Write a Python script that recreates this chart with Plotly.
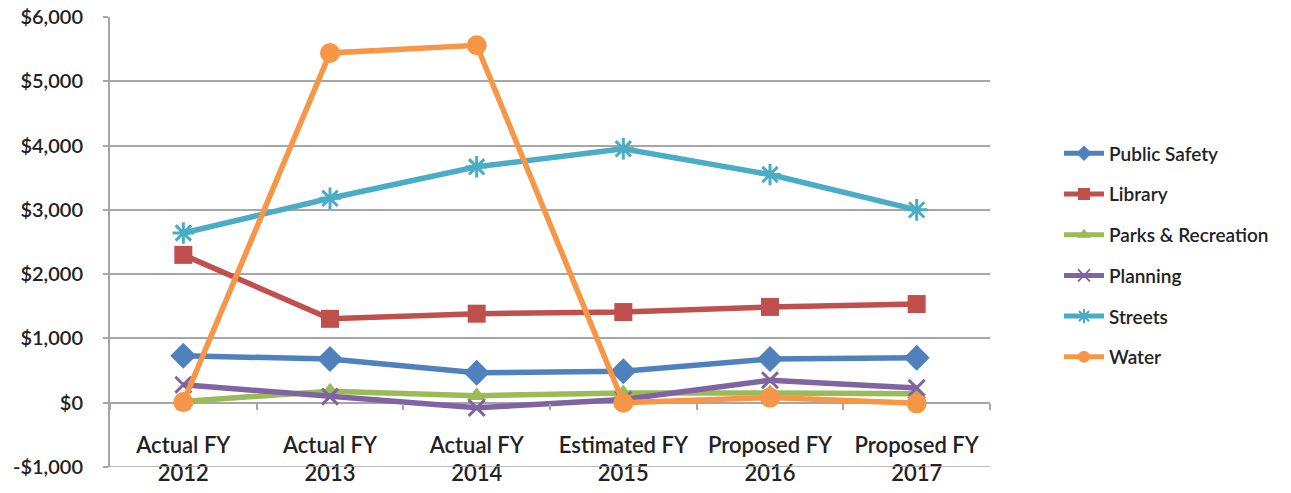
import plotly.graph_objects as go

# Fiscal-year categories (two label rows)
fy_kind = ["Actual FY", "Actual FY", "Actual FY", "Estimated FY", "Proposed FY", "Proposed FY"]
fy_year = ["2012", "2013", "2014", "2015", "2016", "2017"]
categories = [f"{k}<br>{y}" for k, y in zip(fy_kind, fy_year)]

# Spending by department
public_safety = [730, 680, 465, 490, 680, 700]
library = [2300, 1305, 1385, 1410, 1490, 1535]
parks_recreation = [20, 180, 110, 150, 150, 140]
planning = [280, 95, -80, 50, 350, 230]
streets = [2640, 3180, 3670, 3950, 3550, 3000]
water = [10, 5440, 5560, 0, 80, -10]

y_ticks = [-1000, 0, 1000, 2000, 3000, 4000, 5000, 6000]
y_labels = ["-$1,000", "$0", "$1,000", "$2,000", "$3,000", "$4,000", "$5,000", "$6,000"]

series = [
    ("Public Safety", public_safety, "#4F81BD", "diamond", 20),
    ("Library", library, "#C0504D", "square", 18),
    ("Parks & Recreation", parks_recreation, "#9BBB59", "triangle-up", 17),
    ("Planning", planning, "#8064A2", "x-thin", 16),
    ("Streets", streets, "#4BACC6", "asterisk", 18),
    ("Water", water, "#F79646", "circle", 20),
]

FONT = "Lato, 'Open Sans', sans-serif"
TXT = "#222222"
GRID = "#a6a6a6"
WEIGHT = 600

fig = go.Figure()
for i, (name, vals, color, sym, size) in enumerate(series):
    open_sym = sym in ("x-thin", "asterisk")
    fig.add_trace(go.Scatter(
        x=categories, y=vals, name=name, mode="lines+markers",
        legendgroup=f"g{i}",
        line=dict(color=color, width=5.5),
        marker=dict(symbol=sym, size=size, color=color,
                    line=dict(color=color, width=3 if open_sym else 0)),
    ))

# zero-line position of the category axis in paper units
zero_pos = (0 - y_ticks[0]) / (y_ticks[-1] - y_ticks[0])

fig.update_layout(
    width=1291, height=493,
    margin=dict(l=110, r=301, t=17, b=26, autoexpand=False),
    paper_bgcolor="white", plot_bgcolor="white",
    font=dict(family=FONT, size=19, color=TXT, weight=WEIGHT),
    showlegend=True,
    legend=dict(
        x=1.0784, y=0.739, xanchor="left", yanchor="top",
        traceorder="grouped", tracegroupgap=13,
        font=dict(family=FONT, size=19, color=TXT, weight=WEIGHT),
        itemwidth=40, itemsizing="constant",
    ),
    xaxis=dict(
        type="category", categoryorder="array", categoryarray=categories,
        anchor="free", position=zero_pos,
        showgrid=False, zeroline=False, showline=False,
        ticks="outside", tickson="boundaries", ticklen=6, tickwidth=1.5, tickcolor=GRID,
        ticklabelstandoff=27,
        tickfont=dict(family=FONT, size=22, color=TXT, weight=WEIGHT),
        range=[-0.5, 5.5],
    ),
    yaxis=dict(
        range=[y_ticks[0], y_ticks[-1]],
        tickvals=y_ticks, ticktext=y_labels,
        showgrid=True, gridcolor=GRID, gridwidth=1.5,
        zeroline=False,
        showline=True, linecolor=GRID, linewidth=2,
        ticks="outside", ticklen=5, tickcolor=GRID, tickwidth=1.5,
        ticklabelstandoff=16,
        tickfont=dict(family=FONT, size=20, color=TXT, weight=WEIGHT),
    ),
)

# bottom border of the value range
fig.add_hline(y=y_ticks[0], line=dict(color=GRID, width=1.5))

fig.write_html("out.html")
